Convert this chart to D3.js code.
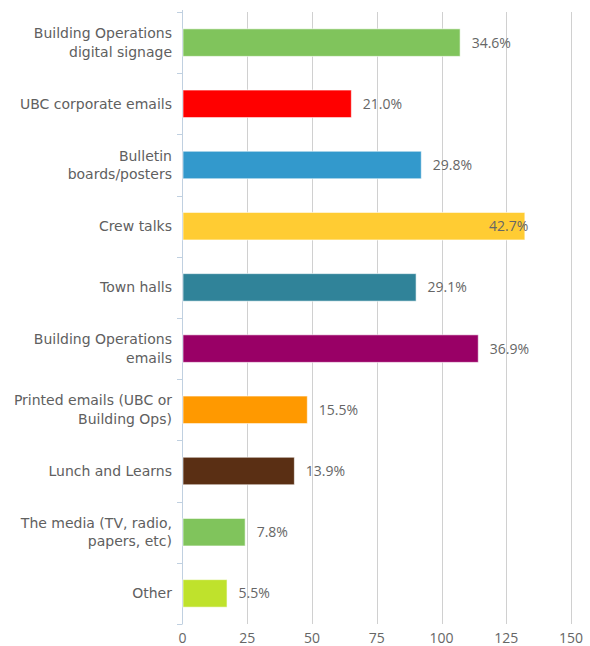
<!DOCTYPE html>
<html><head><meta charset="utf-8">
<script src="https://cdn.jsdelivr.net/npm/d3@7"></script>
<style>body{margin:0;background:#fff}svg{display:block}</style>
</head><body>
<svg id="chart" width="590" height="646"></svg>
<script>
const categories = [
  "Building Operations|digital signage",
  "UBC corporate emails",
  "Bulletin|boards/posters",
  "Crew talks",
  "Town halls",
  "Building Operations|emails",
  "Printed emails (UBC or|Building Ops)",
  "Lunch and Learns",
  "The media (TV, radio,|papers, etc)",
  "Other"
];
const counts = [107, 65, 92, 132, 90, 114, 48, 43, 24, 17];
const percentLabels = ["34.6%","21.0%","29.8%","42.7%","29.1%","36.9%","15.5%","13.9%","7.8%","5.5%"];
const colors = ["#80c45c","#ff0000","#3399cc","#ffcc33","#308399","#990066","#ff9900","#5a2f14","#80c45c","#bfe22c"];
const xTicks = [0, 25, 50, 75, 100, 125, 150];

const svg = d3.select("#chart");
const x = d3.scaleLinear().domain([0, 150]).range([182.5, 571]);
const y = d3.scaleBand().domain(categories).range([12, 624]).padding(0);
const bw = y.bandwidth();
const bh = bw * 0.45;

// gridlines
svg.append("g").selectAll("line").data(xTicks.slice(1)).join("line")
  .attr("x1", d => Math.round(x(d)) + 0.5).attr("x2", d => Math.round(x(d)) + 0.5)
  .attr("y1", 12).attr("y2", 624)
  .attr("stroke", "#d0d0d0").attr("stroke-width", 1);

// left axis line + ticks
const axG = svg.append("g");
axG.append("line").attr("x1", 182.5).attr("x2", 182.5).attr("y1", 10).attr("y2", 624)
  .attr("stroke", "#c0d0e0").attr("stroke-width", 1);
const bounds = categories.map(c => y(c)).concat([624]);
axG.selectAll("line.t").data(bounds).join("line").attr("class","t")
  .attr("x1", 177).attr("x2", 182.5)
  .attr("y1", d => Math.round(d) + 0.5).attr("y2", d => Math.round(d) + 0.5)
  .attr("stroke", "#c0d0e0").attr("stroke-width", 1);

// bars
svg.append("g").selectAll("rect").data(categories).join("rect")
  .attr("x", x(0) + 0.5)
  .attr("y", c => y(c) + (bw - bh) / 2)
  .attr("width", (c, i) => x(counts[i]) - x(0))
  .attr("height", bh)
  .attr("fill", (c, i) => colors[i])
  .attr("stroke", "#ffffff").attr("stroke-opacity", 0.6).attr("stroke-width", 1);

// category labels
const cl = svg.append("g").attr("font-family", "'DejaVu Sans', Verdana, sans-serif")
  .attr("font-size", "14px").attr("fill", "#606060").attr("text-anchor", "end");
categories.forEach(c => {
  const lines = c.split("|");
  const cy = y(c) + bw / 2;
  const lh = 18.5;
  const t = cl.append("text").attr("x", 172);
  lines.forEach((ln, j) => {
    t.append("tspan").attr("x", 172)
      .attr("y", cy + (j - (lines.length - 1) / 2) * lh)
      .attr("dy", "0.35em").text(ln);
  });
});

// value labels
const vl = svg.append("g").attr("font-family", "'Open Sans', sans-serif")
  .attr("font-size", "14px").attr("fill", "#666666");
categories.forEach((c, i) => {
  const end = x(counts[i]);
  const inside = end + 12 + 42 > x(150);
  vl.append("text")
    .attr("x", inside ? end + 4 : end + 12)
    .attr("text-anchor", inside ? "end" : "start")
    .attr("y", y(c) + bw / 2).attr("dy", "0.35em")
    .text(percentLabels[i]);
});

// x tick labels
svg.append("g").attr("font-family", "'Open Sans', sans-serif").attr("font-size", "14px")
  .attr("fill", "#666666").attr("text-anchor", "middle")
  .selectAll("text").data(xTicks).join("text")
  .attr("x", d => x(d)).attr("y", 643).text(d => d);
</script>
</body></html>
